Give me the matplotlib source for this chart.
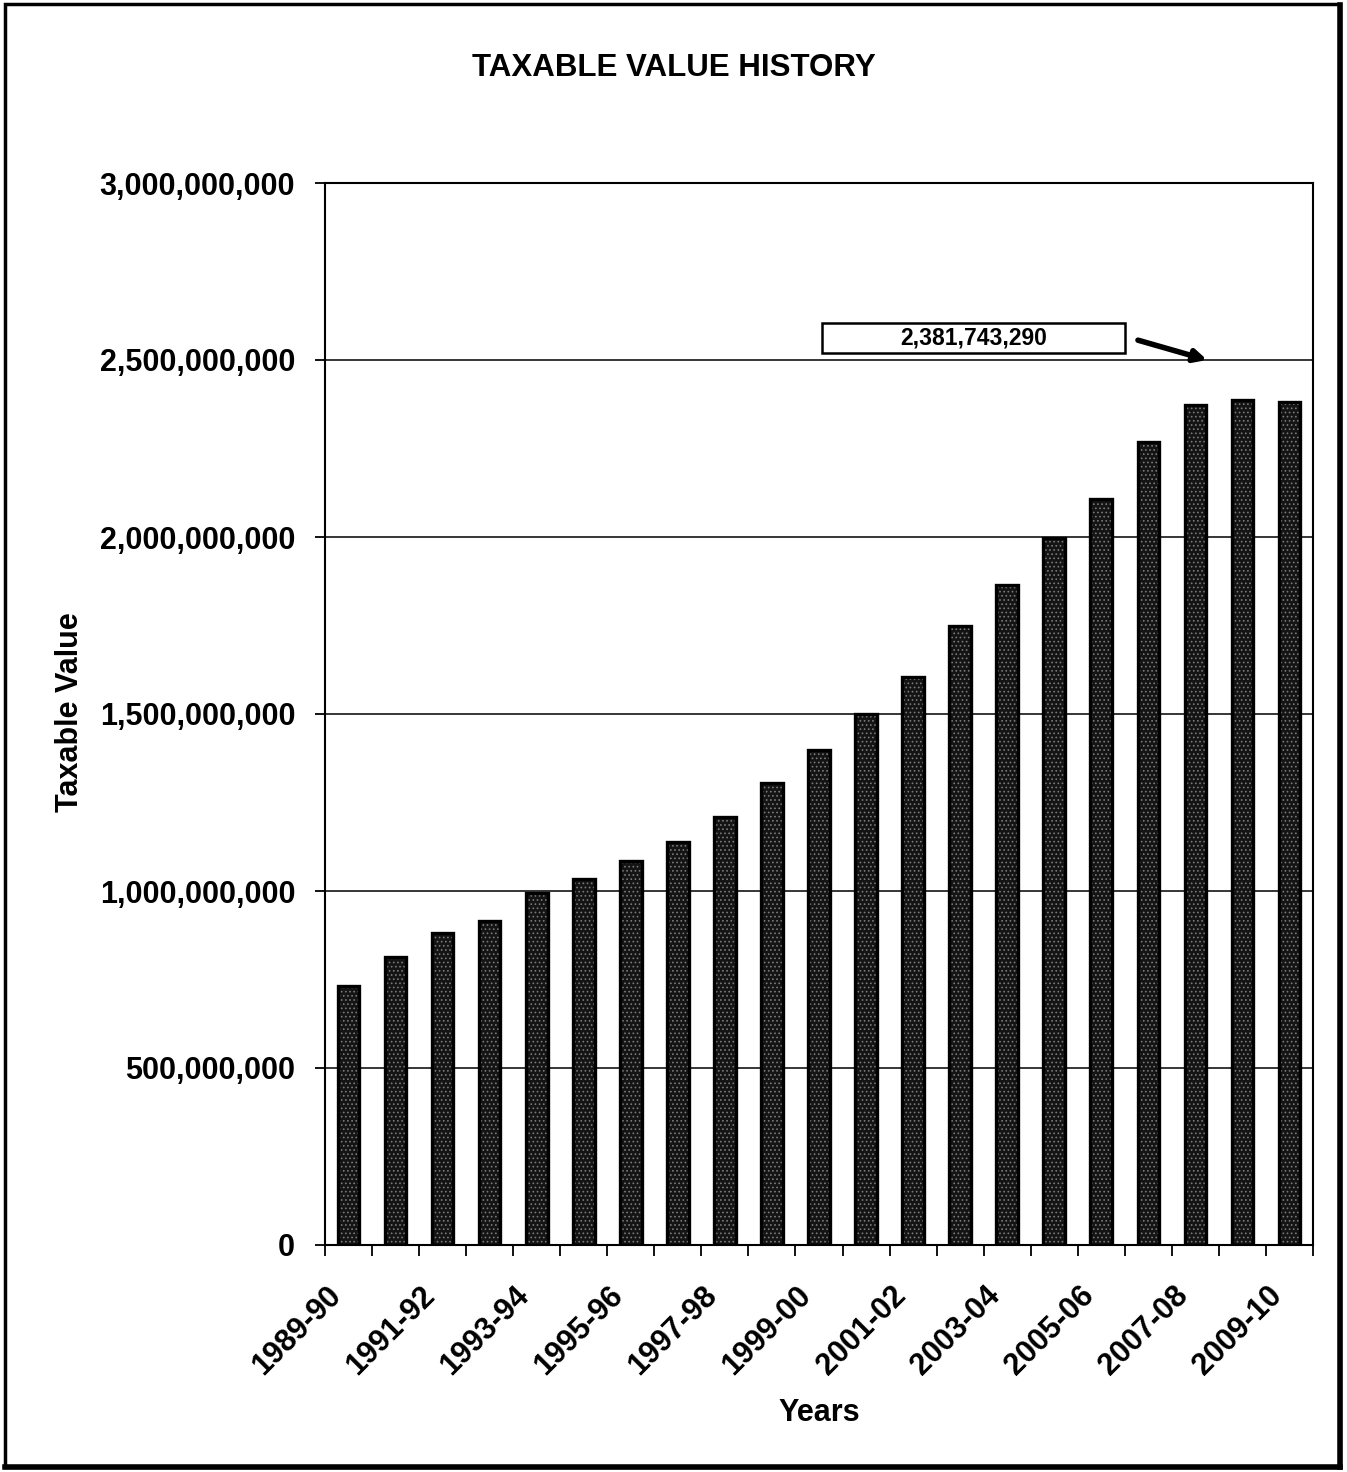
import matplotlib
matplotlib.use("Agg")
import matplotlib.pyplot as plt
import matplotlib.transforms as mtransforms
from matplotlib.patches import Rectangle
from matplotlib.ticker import FuncFormatter, MultipleLocator

plt.rcParams['font.family'] = ['Liberation Sans', 'DejaVu Sans']
plt.rcParams['font.weight'] = 'bold'
plt.rcParams['hatch.linewidth'] = 0.7

# fiscal years and taxable values
years = ["1989-90", "1990-91", "1991-92", "1992-93", "1993-94", "1994-95",
         "1995-96", "1996-97", "1997-98", "1998-99", "1999-00", "2000-01",
         "2001-02", "2002-03", "2003-04", "2004-05", "2005-06", "2006-07",
         "2007-08", "2008-09", "2009-10"]
values = [731_000_000, 814_000_000, 880_000_000, 916_000_000, 993_000_000,
          1_033_000_000, 1_084_000_000, 1_138_000_000, 1_210_000_000,
          1_306_000_000, 1_398_000_000, 1_500_000_000, 1_605_000_000,
          1_749_000_000, 1_864_000_000, 1_996_000_000, 2_107_000_000,
          2_269_000_000, 2_373_000_000, 2_386_000_000, 2_381_743_290]

fig = plt.figure(figsize=(13.47, 14.72), dpi=100)
ax = fig.add_axes([325 / 1347, 1 - 1245 / 1472, 988 / 1347, 1062 / 1472])

x = list(range(len(years)))
# stippled fill, then a solid black outline on top
ax.bar(x, values, width=0.46, color='#141414', hatch='....',
       edgecolor='#7a7a7a', linewidth=0, zorder=2)
ax.bar(x, values, width=0.46, fill=False, edgecolor='black',
       linewidth=2.4, zorder=3)

ax.set_xlim(-0.5, len(years) - 0.5)
ax.set_ylim(0, 3_000_000_000)
ax.yaxis.set_major_locator(MultipleLocator(500_000_000))
ax.yaxis.set_major_formatter(FuncFormatter(lambda v, p: f"{v:,.0f}"))
ax.grid(axis='y', color='black', linewidth=1.1, zorder=1)
ax.set_axisbelow(True)

for side in ['left', 'bottom', 'top', 'right']:
    ax.spines[side].set_linewidth(1.5)
    ax.spines[side].set_zorder(4)

ax.tick_params(axis='y', direction='out', length=7.5, width=1.3,
               pad=14, labelsize=22)

# tick marks sit between categories, labels every other year
ax.set_xticks([i - 0.5 for i in range(len(years) + 1)])
ax.set_xticklabels([])
ax.tick_params(axis='x', which='major', direction='out', length=8, width=1.3)
ax.set_xticks(x[::2], minor=True)
ax.set_xticklabels(years[::2], minor=True, rotation=45, ha='right',
                   va='center', rotation_mode='anchor', fontsize=22)
ax.tick_params(axis='x', which='minor', length=0, pad=33)
shift = mtransforms.ScaledTranslation(-12 / 100, 0, fig.dpi_scale_trans)
for lbl in ax.get_xticklabels(minor=True):
    lbl.set_transform(lbl.get_transform() + shift)

# callout for the latest value
ax.add_patch(Rectangle((10.06, 2_520_000_000), 6.44, 85_000_000,
                       facecolor='white', edgecolor='black', linewidth=1.8,
                       zorder=5))
ax.text(13.28, 2_562_000_000, f"{values[-1]:,.0f}", ha='center', va='center',
        fontsize=16.5, zorder=6)
ax.annotate("", xy=(18.25, 2_500_000_000), xytext=(16.78, 2_556_000_000),
            arrowprops=dict(arrowstyle='-|>', color='black', lw=4,
                            mutation_scale=18, shrinkA=0, shrinkB=0),
            zorder=6)

fig.text(674 / 1347, 1 - 68 / 1472, "TAXABLE VALUE HISTORY", ha='center',
         va='center', fontsize=22.5)
fig.text(70 / 1347, 1 - 712 / 1472, "Taxable Value", ha='center',
         va='center', rotation=90, fontsize=22)
fig.text(819 / 1347, 1 - 1413 / 1472, "Years", ha='center', va='center',
         fontsize=22)

# page frame with a heavier right and bottom edge
fig.add_artist(Rectangle((5 / 1347, 5 / 1472), 1335 / 1347, 1463 / 1472,
                         transform=fig.transFigure, fill=False,
                         edgecolor='black', linewidth=2.5))
fig.add_artist(plt.Line2D([1340 / 1347, 1340 / 1347], [5 / 1472, 1467 / 1472],
                          transform=fig.transFigure, color='black', lw=4))
fig.add_artist(plt.Line2D([5 / 1347, 1340 / 1347], [5 / 1472, 5 / 1472],
                          transform=fig.transFigure, color='black', lw=4))

fig.savefig("out.png", dpi=100)
